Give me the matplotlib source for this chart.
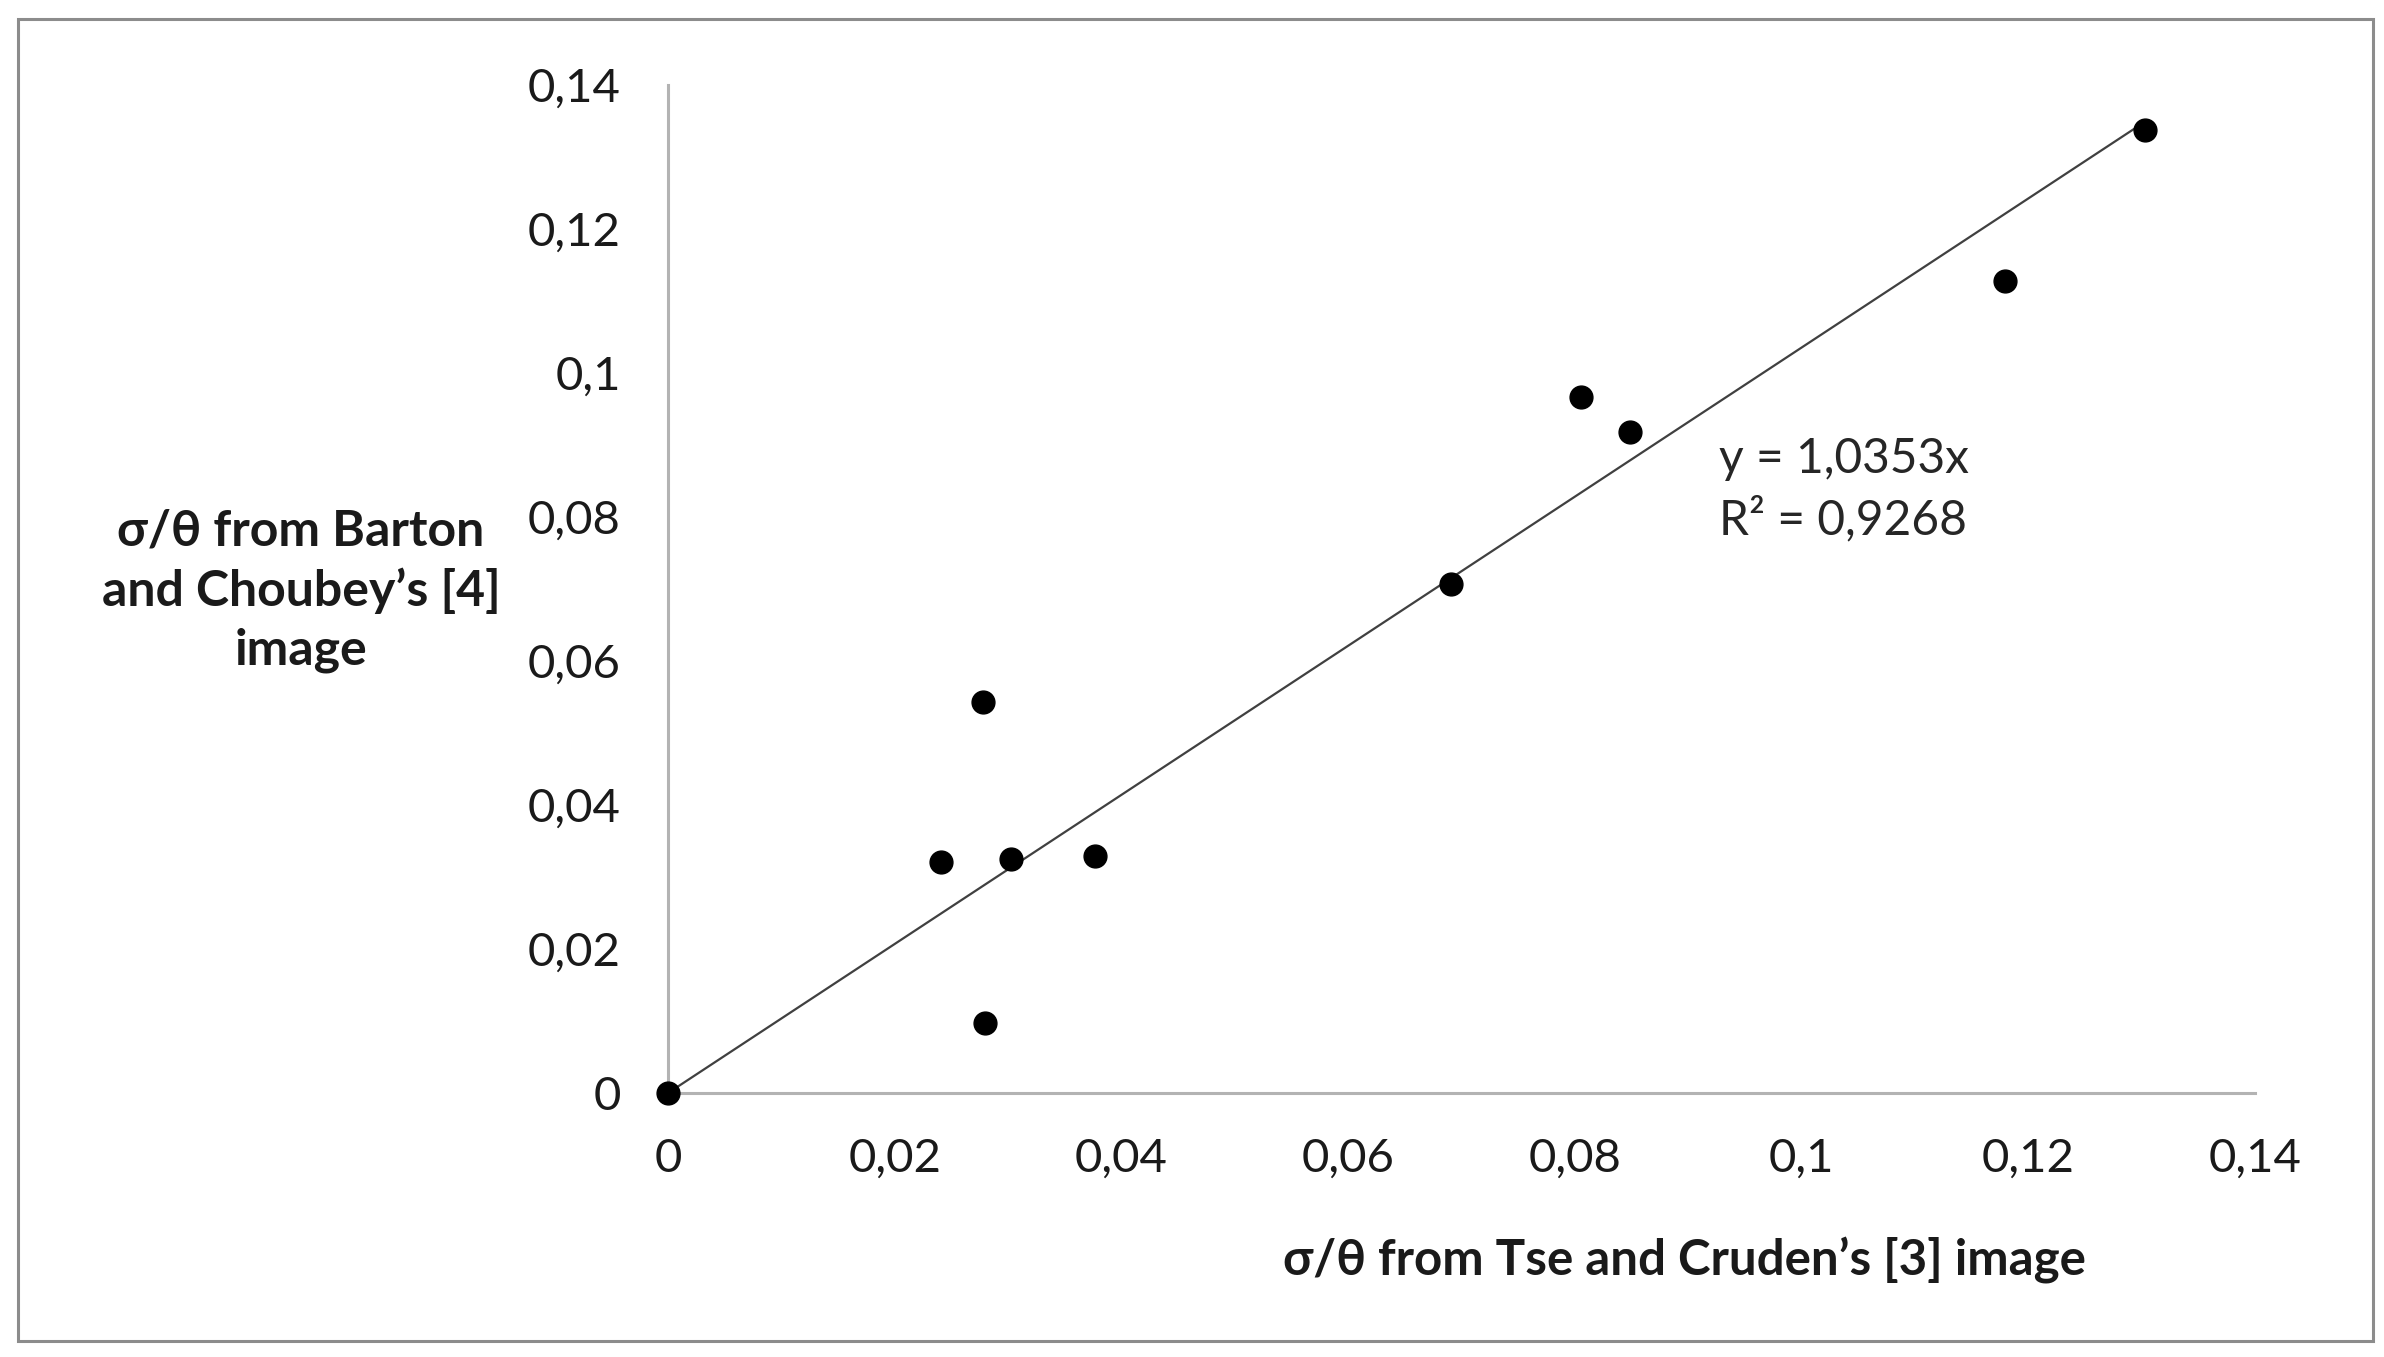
import numpy as np
import matplotlib
matplotlib.use("Agg")
from matplotlib import pyplot as plt
from matplotlib.patches import Rectangle

# values
tse_cruden = [0.0, 0.0241, 0.0278, 0.0280, 0.0303, 0.0377, 0.0691, 0.0805, 0.0849, 0.1179, 0.1303]
barton_choubey = [0.0, 0.0321, 0.0543, 0.0097, 0.0325, 0.0329, 0.0707, 0.0967, 0.0918, 0.1128, 0.1337]
slope = 1.0353
r2 = 0.9268
ticks = [0, 0.02, 0.04, 0.06, 0.08, 0.1, 0.12, 0.14]
tick_labels = ["0", "0,02", "0,04", "0,06", "0,08", "0,1", "0,12", "0,14"]

plt.rcParams['font.family'] = ['Lato', 'DejaVu Sans']

fig = plt.figure(figsize=(23.84, 13.57), dpi=100)
ax = fig.add_axes([0.2802, 0.1945, 0.9459 - 0.2802, 0.9374 - 0.1945])

# outer frame
fig.patches.append(Rectangle((0.0075, 0.012), 0.988, 0.974, transform=fig.transFigure,
                             fill=False, edgecolor='#8c8c8c', linewidth=2.2))

x = np.array(tse_cruden)
y = np.array(barton_choubey)
xs = np.array([0, x.max()])
ax.plot(xs, slope * xs, color='#404040', linewidth=1.6, zorder=2)
ax.scatter(x, y, s=270, color='black', zorder=3, clip_on=False)

ax.set_xlim(0, 0.14)
ax.set_ylim(0, 0.14)
ax.set_xticks(ticks)
ax.set_xticklabels(tick_labels)
ax.set_yticks(ticks)
ax.set_yticklabels(tick_labels)
ax.tick_params(length=0, labelsize=34, colors='#1a1a1a')
ax.tick_params(axis='x', pad=32)
ax.tick_params(axis='y', pad=34)

for side in ['top', 'right']:
    ax.spines[side].set_visible(False)
for side in ['left', 'bottom']:
    ax.spines[side].set_color('#b3b3b3')
    ax.spines[side].set_linewidth(2.2)

ax.text(0.0927, 0.0838, "y = 1,0353x\nR² = " + f"{r2}".replace('.', ','),
        fontsize=34.5, color='#262626', va='center', ha='left', linespacing=1.38)

fig.text(1684 / 2384, 1 - 1261 / 1357, "σ/θ from Tse and Cruden’s [3] image",
         fontsize=35.5, fontweight='bold', ha='center', va='center', color='#1a1a1a')
fig.text(301 / 2384, 1 - 591 / 1357, "σ/θ from Barton\nand Choubey’s [4]\nimage",
         fontsize=36, fontweight='bold', ha='center', va='center', color='#1a1a1a',
         linespacing=1.37)

fig.savefig("out.png", dpi=100, facecolor='white')
